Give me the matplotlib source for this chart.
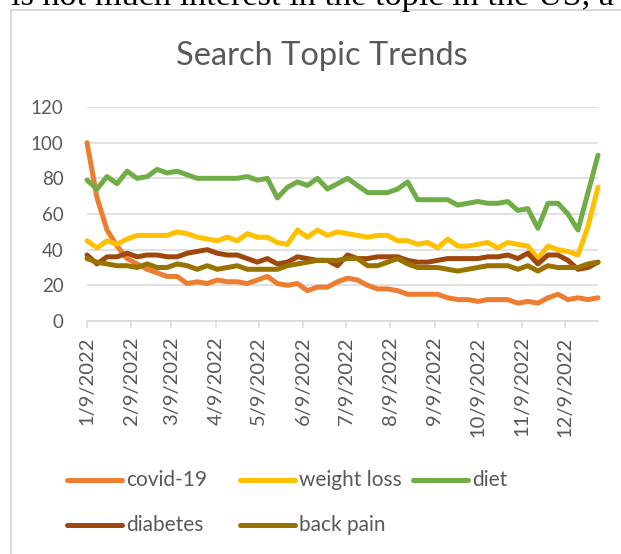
import numpy as np
import pandas as pd
import matplotlib
matplotlib.use("Agg")
import matplotlib.pyplot as plt
from matplotlib.patches import Rectangle
from matplotlib.lines import Line2D

# weekly Google-Trends style values, first week 1/9/2022
weeks = pd.date_range("2022-01-09", periods=52, freq="7D")

covid = [100, 69, 51, 42, 35, 32, 29, 27, 25, 25, 21, 22, 21,
         23, 22, 22, 21, 23, 25, 21, 20, 21, 17, 19, 19, 22,
         24, 23, 20, 18, 18, 17, 15, 15, 15, 15, 13, 12, 12,
         11, 12, 12, 12, 10, 11, 10, 13, 15, 12, 13, 12, 13]
weight_loss = [45, 41, 45, 43, 46, 48, 48, 48, 48, 50, 49, 47, 46,
               45, 47, 45, 49, 47, 47, 44, 43, 51, 47, 51, 48, 50,
               49, 48, 47, 48, 48, 45, 45, 43, 44, 41, 46, 42, 42,
               43, 44, 41, 44, 43, 42, 35, 42, 40, 39, 37, 53, 75]
diet = [79, 74, 81, 77, 84, 80, 81, 85, 83, 84, 82, 80, 80,
        80, 80, 80, 81, 79, 80, 69, 75, 78, 76, 80, 74, 77,
        80, 76, 72, 72, 72, 74, 78, 68, 68, 68, 68, 65, 66,
        67, 66, 66, 67, 62, 63, 52, 66, 66, 60, 51, 72, 93]
diabetes = [37, 32, 36, 36, 38, 36, 37, 37, 36, 36, 38, 39, 40,
            38, 37, 37, 35, 33, 35, 32, 33, 36, 35, 34, 34, 31,
            37, 35, 35, 36, 36, 36, 34, 33, 33, 34, 35, 35, 35,
            35, 36, 36, 37, 35, 38, 32, 37, 37, 34, 29, 30, 33]
back_pain = [35, 33, 32, 31, 31, 30, 32, 30, 30, 32, 31, 29, 31,
             29, 30, 31, 29, 29, 29, 29, 31, 32, 33, 34, 34, 34,
             35, 35, 31, 31, 33, 35, 32, 30, 30, 30, 29, 28, 29,
             30, 31, 31, 31, 29, 31, 28, 31, 30, 30, 30, 32, 33]

labels = ["covid-19", "weight loss", "diet", "diabetes", "back pain"]
colors = ["#ED7D31", "#FFC000", "#70AD47", "#9E480E", "#997300"]
series = [covid, weight_loss, diet, diabetes, back_pain]

month_ticks = pd.date_range("2022-01-09", periods=12, freq=pd.DateOffset(months=1))
tick_labels = [f"{d.month}/{d.day}/{d.year}" for d in month_ticks]

W, H = 621, 554
GRID = "#D9D9D9"
TXT = "#595959"
FONT = "Lato"


def fx(px):
    return px / W


def fy(py):
    return 1 - py / H


fig = plt.figure(figsize=(W / 100, H / 100), dpi=100)
fig.patch.set_facecolor("white")

# bit of the document text above the chart (cut by the page edge)
fig.text(fx(11), fy(5), "is not much interest in the topic in the US, a",
         family="Liberation Serif", fontsize=24.7, color="black", va="baseline")

# chart frame, runs off the right and bottom of the picture
fig.add_artist(Rectangle((fx(11), -0.05), 2, fy(10) + 0.05, transform=fig.transFigure,
                         fill=False, edgecolor=GRID, lw=1.5))

ax = fig.add_axes([fx(87), fy(321), fx(598) - fx(87), fy(107) - fy(321)])
for vals, c, lab in zip(series, colors, labels):
    ax.plot(weeks, vals, color=c, lw=3.6, label=lab, solid_joinstyle="round",
            solid_capstyle="round", clip_on=False, zorder=3)

ax.set_xlim(weeks[0], weeks[-1])
ax.set_ylim(0, 120)
ax.set_yticks(range(0, 121, 20))
ax.set_xticks(month_ticks)
ax.set_xticklabels(tick_labels, rotation=90)

for s in ["top", "right", "left"]:
    ax.spines[s].set_visible(False)
ax.spines["bottom"].set_color(GRID)
ax.spines["bottom"].set_linewidth(1.1)
ax.grid(axis="y", color=GRID, lw=1.1)
ax.set_axisbelow(True)
ax.tick_params(axis="y", length=0, pad=17, labelsize=13.5, labelcolor=TXT)
ax.tick_params(axis="x", direction="out", length=5, width=1.1, color=GRID,
               pad=6, labelsize=14.5, labelcolor=TXT)
for t in ax.get_xticklabels() + ax.get_yticklabels():
    t.set_family(FONT)

fig.text(fx(322), fy(56), "Search Topic Trends", family=FONT, fontsize=23.5,
         color=TXT, ha="center", va="center")

# legend laid out like the spreadsheet one: fixed column slots
slots = [(67, 480), (240, 480), (413, 480), (67, 525), (240, 525)]
for (x0, y0), c, lab in zip(slots, colors, labels):
    fig.add_artist(Line2D([fx(x0), fx(x0 + 55)], [fy(y0), fy(y0)], color=c, lw=3.6,
                          solid_capstyle="round", transform=fig.transFigure))
    fig.text(fx(x0 + 59), fy(y0), lab, family=FONT, fontsize=15, color=TXT,
             ha="left", va="center")

fig.savefig("out.png", dpi=100)
